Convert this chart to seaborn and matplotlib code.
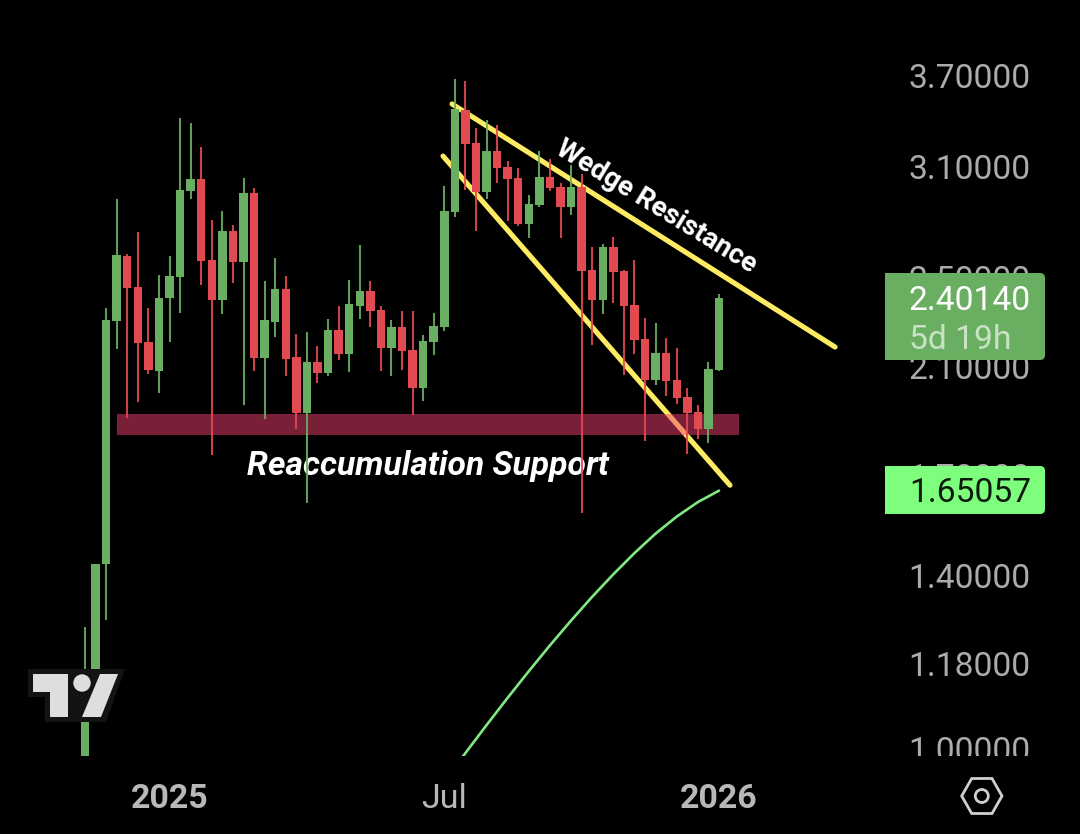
import matplotlib
matplotlib.use("Agg")
import matplotlib.pyplot as plt
from matplotlib.patches import Polygon, Circle, FancyBboxPatch, Rectangle
from matplotlib.ticker import NullLocator
import seaborn as sns

# Weekly OHLC
opens = [0.950, 1.097, 1.432, 2.296, 2.606, 2.453, 2.204, 2.083, 2.402, 2.501, 2.958, 3.028, 2.586, 2.392, 2.736, 2.576,
         2.946, 2.137, 2.291, 2.444, 2.141, 1.919, 2.120, 2.075, 2.256, 2.153, 2.364, 2.434, 2.346, 2.179, 2.270, 2.170,
         2.015, 2.204, 2.270, 2.840, 3.463, 3.248, 2.952, 3.197, 3.099, 3.033, 2.773, 2.878, 3.039, 2.981, 2.867, 2.981,
         2.536, 2.392, 2.652, 2.531, 2.369, 2.217, 2.047, 2.158, 2.047, 1.980, 1.923, 1.860, 2.087]
closes = [1.097, 1.432, 2.300, 2.611, 2.449, 2.200, 2.087, 2.402, 2.506, 2.964, 3.028, 2.581, 2.392, 2.736, 2.576, 2.946,
          2.137, 2.300, 2.444, 2.132, 1.919, 2.120, 2.075, 2.256, 2.153, 2.373, 2.434, 2.341, 2.179, 2.270, 2.166, 2.015,
          2.209, 2.274, 2.845, 3.470, 3.242, 2.952, 3.197, 3.093, 3.028, 2.773, 2.884, 3.039, 2.975, 2.867, 2.981, 2.531,
          2.392, 2.652, 2.526, 2.364, 2.213, 2.047, 2.158, 2.043, 1.976, 1.919, 1.860, 2.091, 2.4014]
highs = [1.265, 1.432, 2.355, 2.912, 2.616, 2.731, 2.355, 2.511, 2.606, 3.410, 3.377, 3.223, 2.795, 2.845, 2.768, 3.033,
         2.975, 2.482, 2.596, 2.506, 2.239, 2.248, 2.187, 2.304, 2.364, 2.487, 2.662, 2.482, 2.364, 2.300, 2.341, 2.341,
         2.234, 2.332, 2.987, 3.679, 3.664, 3.344, 3.397, 3.364, 3.135, 3.093, 2.935, 3.197, 3.147, 3.004, 3.111, 3.057,
         2.652, 2.668, 2.705, 2.536, 2.586, 2.309, 2.287, 2.222, 2.179, 2.015, 1.950, 2.120, 2.420]
lows = [0.940, 1.090, 1.282, 2.174, 1.901, 1.961, 2.071, 1.996, 2.204, 2.332, 2.912, 2.463, 1.769, 2.327, 2.472, 1.950,
        2.083, 1.897, 2.226, 2.063, 1.860, 1.611, 2.035, 2.063, 2.128, 2.079, 2.304, 2.270, 2.083, 2.063, 2.087, 1.912,
        1.965, 2.149, 2.252, 2.812, 2.964, 2.736, 2.912, 3.004, 2.790, 2.763, 2.699, 2.867, 2.958, 2.699, 2.823, 1.579,
        2.191, 2.327, 2.378, 2.067, 2.153, 1.817, 2.027, 1.984, 1.954, 1.772, 1.824, 1.810, 2.085]

ma_index = [35, 36, 38, 40, 42, 44, 46, 48, 50, 52, 54, 56, 58, 60]
ma_values = [0.9636, 0.9902, 1.0457, 1.1028, 1.1614, 1.2213, 1.2817, 1.3425, 1.4026, 1.4617, 1.5182, 1.5693, 1.6142, 1.65057]

band_x = [3.03, 61.9]
band_low, band_high = 1.839, 1.916
upper_x, upper_y = [34.73, 70.98], [3.504, 2.183]
lower_x, lower_y = [33.88, 61.04], [3.166, 1.668]

y_ticks = [3.7, 3.1, 2.5, 2.1, 1.7, 1.4, 1.18, 1.0]
y_labels = ["3.70000", "3.10000", "2.50000", "2.10000", "1.70000", "1.40000", "1.18000", "1.00000"]
x_ticks = [8, 34, 60]
x_labels = ["2025", "Jul", "2026"]

GREEN, RED = "#69AE61", "#E04A50"

sns.set_theme(style="dark", rc={"figure.facecolor": "black", "axes.facecolor": "black"})
plt.rcParams["font.family"] = ["Roboto", "DejaVu Sans"]

fig = plt.figure(figsize=(10.8, 8.34), dpi=100, facecolor="black")
ax = fig.add_axes([0, 78 / 834, 1, 756 / 834])
ax.set_facecolor("black")
ax.set_yscale("log")
ax.set_axisbelow(True)

idx = list(range(len(opens)))
colors = [GREEN if c >= o else RED for o, c in zip(opens, closes)]

ax.plot(upper_x, upper_y, color="#FFEB62", lw=3.7, solid_capstyle="round", zorder=1.5)
ax.plot(lower_x, lower_y, color="#FFEB62", lw=3.7, solid_capstyle="round", zorder=1.5)
ax.fill_between(band_x, band_low, band_high, color="#F23E70", alpha=0.5, lw=0, zorder=1.8)

ax.text(32.46, 1.731, "Reaccumulation Support", color="white", fontsize=24.2, fontweight="bold",
        fontstyle="italic", ha="center", va="center", zorder=2)
ax.text(54.1, 2.867, "Wedge Resistance", color="white", fontsize=20, fontweight="bold", rotation=-31.5,
        rotation_mode="anchor", ha="center", va="center", zorder=2)

ax.vlines(idx, lows, highs, colors=colors, lw=1.5, alpha=0.9, zorder=3)
ax.bar(idx, [abs(c - o) for o, c in zip(opens, closes)], bottom=[min(o, c) for o, c in zip(opens, closes)],
       width=0.8, color=colors, lw=0, zorder=3.2)

sns.lineplot(x=ma_index, y=ma_values, ax=ax, color="#80E880", lw=1.9, zorder=3)
ax.set(xlabel="", ylabel="")

ax.set_xlim(-8.044, 94.16)
ax.set_ylim(0.9846, 4.290)
ax.yaxis.tick_right()
ax.yaxis.set_minor_locator(NullLocator())
ax.set_yticks(y_ticks, y_labels)
ax.tick_params(axis="y", length=0, pad=-123.5, labelsize=24.2, labelcolor="#ABABAB")
for lab in ax.get_yticklabels():
    lab.set_clip_on(True)
    lab.set_clip_box(ax.bbox)
ax.set_xticks(x_ticks, x_labels)
ax.tick_params(axis="x", length=0, pad=19.5, labelsize=24.5, labelcolor="#B8B8B8")
for lab, w in zip(ax.get_xticklabels(), ["bold", "normal", "bold"]):
    lab.set_fontweight(w)
ax.grid(False)
for s in ax.spines.values():
    s.set_visible(False)

# Overlay in picture pixels: logo, price tags, settings icon
ov = fig.add_axes([0, 0, 1, 1], facecolor="none")
ov.set_xlim(0, 1080)
ov.set_ylim(834, 0)
ov.axis("off")
ov.add_patch(Polygon([(28, 669), (125, 669), (106, 722), (45, 722), (45, 697), (28, 697)], color="#131313", lw=0))
ov.add_patch(Polygon([(33, 674), (68, 674), (68, 717), (50, 717), (50, 692), (33, 692)], color="#DEDEDE", lw=0))
ov.add_patch(Polygon([(100, 674), (118, 674), (101, 717), (82, 717)], color="#DEDEDE", lw=0))
ov.add_patch(Circle((82, 683), 8.7, color="#DEDEDE", lw=0))

def tag(y0, y1, color):
    ov.add_patch(FancyBboxPatch((895, y0 + 5), 145, y1 - y0 - 10, boxstyle="round,pad=5,rounding_size=5", color=color, lw=0))
    ov.add_patch(Rectangle((885, y0), 20, y1 - y0, color=color, lw=0))

tag(273, 360, "#6AAE62")
tag(466, 514, "#7DFF7D")
ov.text(909, 297.5, "2.40140", color="white", fontsize=24.2, va="center_baseline")
ov.text(909, 336.5, "5d 19h", color="#C8E3C4", fontsize=24.2, va="center_baseline")
ov.text(909, 489.5, "1.65057", color="#0B1A0B", fontsize=24.2, va="center_baseline")

ov.add_patch(Polygon([(961.7, 796), (971.7, 778.5), (992, 778.5), (1002, 796), (992, 813.5), (971.7, 813.5)],
                     fill=False, ec="#CFCFCF", lw=2))
ov.add_patch(Circle((981.8, 796), 6.5, fill=False, ec="#CFCFCF", lw=2))

fig.savefig("out.png", dpi=100, facecolor="black")
